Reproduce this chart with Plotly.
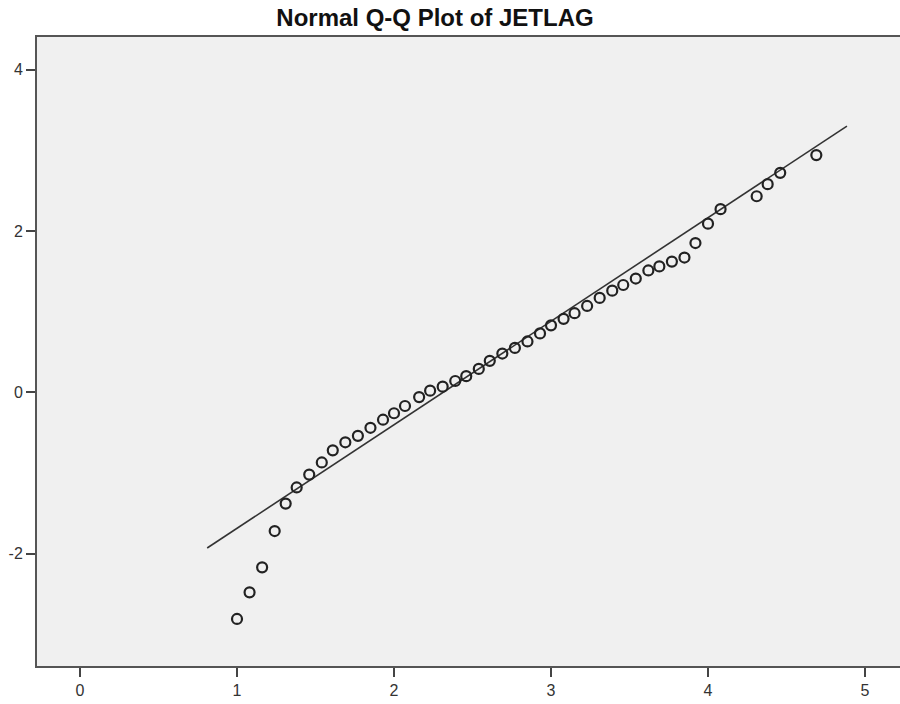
import plotly.graph_objects as go

# Observed values (x) and expected normal values (y)
observed = [1.00, 1.08, 1.16, 1.24, 1.31, 1.38, 1.46, 1.54, 1.61, 1.69,
            1.77, 1.85, 1.93, 2.00, 2.07, 2.16, 2.23, 2.31, 2.39, 2.46,
            2.54, 2.61, 2.69, 2.77, 2.85, 2.93, 3.00, 3.08, 3.15, 3.23,
            3.31, 3.39, 3.46, 3.54, 3.62, 3.69, 3.77, 3.85, 3.92, 4.00,
            4.08, 4.31, 4.38, 4.46, 4.69]
expected = [-2.81, -2.48, -2.17, -1.72, -1.38, -1.18, -1.02, -0.87, -0.72, -0.62,
            -0.54, -0.44, -0.34, -0.26, -0.17, -0.06, 0.02, 0.07, 0.14, 0.20,
            0.29, 0.39, 0.48, 0.55, 0.63, 0.73, 0.83, 0.91, 0.98, 1.07,
            1.17, 1.26, 1.33, 1.41, 1.51, 1.56, 1.62, 1.67, 1.85, 2.09,
            2.27, 2.43, 2.58, 2.72, 2.94]

# Reference line endpoints
line_x = [0.81, 4.885]
line_y = [-1.93, 3.30]

x_ticks = [0, 1, 2, 3, 4, 5]
x_tick_labels = ["0", "1", "2", "3", "4", "5"]
y_ticks = [-2, 0, 2, 4]
y_tick_labels = ["-2", "0", "2", "4"]

W, H = 930, 704

fig = go.Figure()
fig.add_trace(go.Scatter(x=line_x, y=line_y, mode="lines",
                         line=dict(color="#333333", width=1.6),
                         hoverinfo="skip", showlegend=False))
fig.add_trace(go.Scatter(x=observed, y=expected, mode="markers",
                         marker=dict(symbol="circle", size=10,
                                     color="rgba(0,0,0,0)",
                                     line=dict(color="#222222", width=2.2)),
                         showlegend=False))

axis_common = dict(showgrid=False, zeroline=False, showline=True,
                   linecolor="#555555", linewidth=2,
                   ticks="outside", ticklen=9, tickwidth=2, tickcolor="#444444",
                   tickfont=dict(family="Liberation Sans, Arial", size=16, color="#333333"))

fig.update_layout(
    width=W, height=H,
    margin=dict(l=37, r=0, t=37, b=38),
    paper_bgcolor="white",
    plot_bgcolor="#f0f0f0",
    title=dict(text="<b>Normal Q-Q Plot of JETLAG</b>",
               x=435 / W, xanchor="center", xref="container",
               y=1 - 18 / H, yanchor="middle", yref="container",
               font=dict(family="Liberation Sans, Arial", size=24, color="#111111")),
    xaxis=dict(range=[-0.274, (W - 80) / 157], tickvals=x_ticks, ticktext=x_tick_labels,
               mirror=True, **axis_common),
    yaxis=dict(range=[-3.393, 4.404], tickvals=y_ticks, ticktext=y_tick_labels,
               mirror=False, **axis_common),
)

fig.write_html("out.html", config={"displayModeBar": False},
               post_script="document.documentElement.style.overflow='hidden';"
                           "document.body.style.margin='0';document.body.style.padding='0';"
                           "document.body.style.overflow='hidden';")
